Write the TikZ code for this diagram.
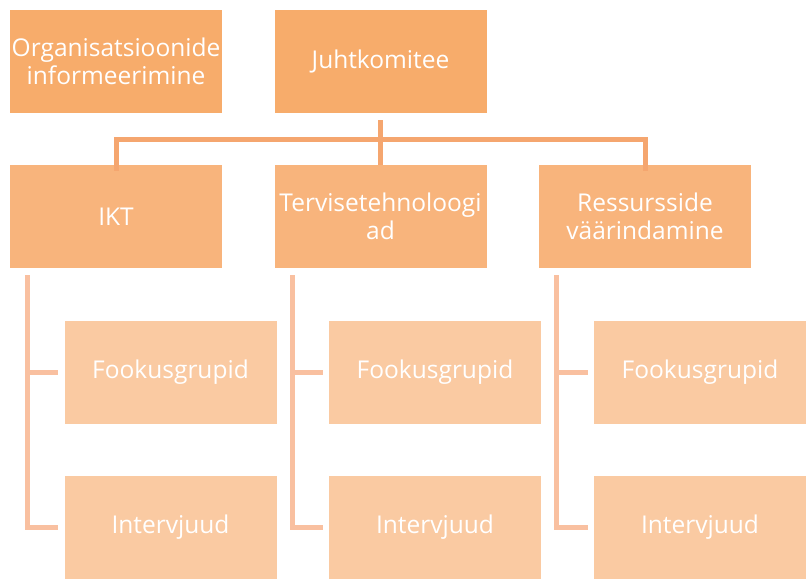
\documentclass[tikz,border=0pt]{standalone}
\usepackage{fontspec}
\setmainfont{Open Sans}
\definecolor{topfill}{HTML}{F7AC6B}
\definecolor{midfill}{HTML}{F8B47C}
\definecolor{subfill}{HTML}{FACAA2}
\definecolor{topline}{HTML}{F5A66F}
\definecolor{subline}{HTML}{F9C0A0}
\begin{document}
\begin{tikzpicture}[x=1pt,y=-1pt,
    box/.style={rectangle,minimum width=212pt,minimum height=103pt,inner sep=0pt,
      text=white,align=center,font=\fontsize{24.5}{28}\selectfont},
    topbox/.style={box,fill=topfill},
    midbox/.style={box,fill=midfill},
    subbox/.style={box,fill=subfill},
    topconn/.style={draw=topline,line width=5pt},
    subconn/.style={draw=subline,line width=5pt,shorten >=6pt}]
  \useasboundingbox (0,0) rectangle (807,586);
  \node[topbox] (org) at (116,61.5) {Organisatsioonide\\informeerimine};
  \node[topbox] (juht) at (380.5,61.5) {Juhtkomitee};
  \node[midbox] (ikt) at (116,216.5) {IKT};
  \node[midbox] (terv) at (380.5,216.5) {Tervisetehnoloogi\\ad};
  \node[midbox] (ress) at (645,216.5) {Ressursside\\väärindamine};
  \coordinate (bus) at (380.5,140);
  \draw[topconn] (juht.south) ++(0,7) -- +(0,45);
  \draw[topconn] ([yshift=-6pt]ikt.north) |- (bus) -| ([yshift=-6pt]ress.north);
  \foreach \c/\x in {ikt/170.5,terv/435,ress/700}{
    \node[subbox] (\c fook) at (\x,372.5) {Fookusgrupid};
    \node[subbox] (\c int) at (\x,527.5) {Intervjuud};
    \draw[subconn] (\c.south west) ++(18,7) |- (\c fook.west);
    \draw[subconn] (\c.south west) ++(18,7) |- (\c int.west);
  }
\end{tikzpicture}
\end{document}
